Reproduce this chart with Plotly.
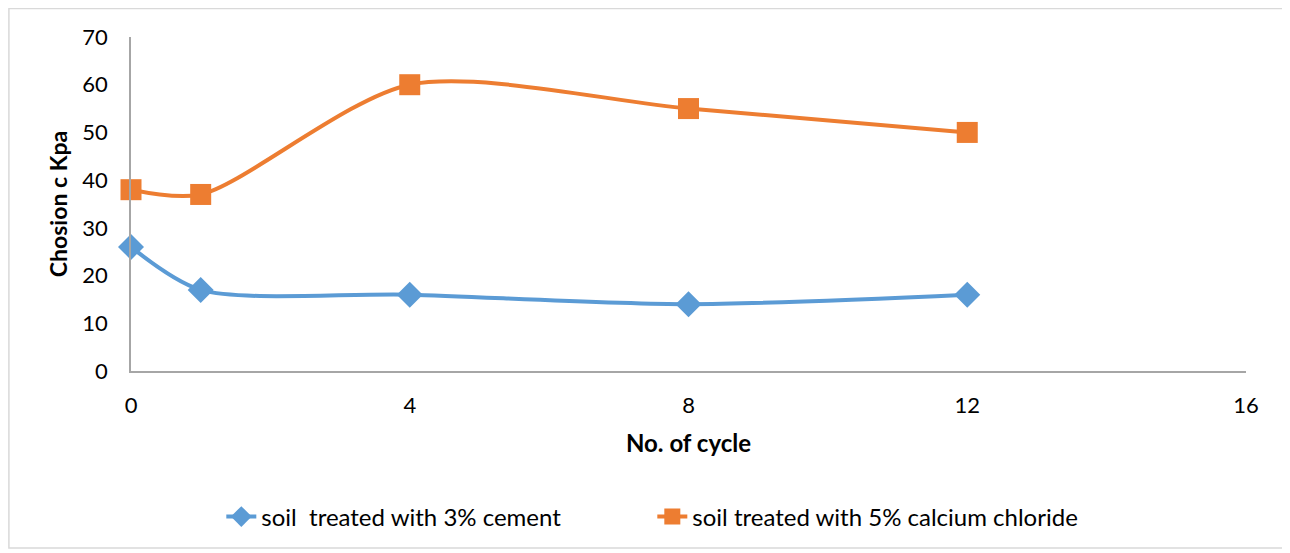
import plotly.graph_objects as go

# data
cycles = [0, 1, 4, 8, 12]
cement = [26, 17, 16, 14, 16]
calcium = [38, 37, 60, 55, 50]
x_ticks = [0, 4, 8, 12, 16]

font_name = "Lato, Open Sans, sans-serif"

fig = go.Figure()
fig.add_trace(go.Scatter(x=cycles, y=cement, name="soil  treated with 3% cement",
                         mode="lines+markers", line=dict(color="#5B9BD5", width=4, shape="spline", smoothing=0.8),
                         marker=dict(symbol="diamond", size=20, color="#5B9BD5")))
fig.add_trace(go.Scatter(x=cycles, y=calcium, name="soil treated with 5% calcium chloride",
                         mode="lines+markers", line=dict(color="#ED7D31", width=4, shape="spline", smoothing=0.8),
                         marker=dict(symbol="square", size=21, color="#ED7D31")))

# page has an 8px body margin, so margins are shifted by that much
fig.update_layout(
    width=1290, height=553,
    margin=dict(l=123, r=52, t=29, b=190),
    paper_bgcolor="white", plot_bgcolor="white",
    font=dict(family=font_name, size=22, color="#000"),
    xaxis=dict(range=[0, 16], tickvals=x_ticks, showgrid=False, zeroline=False,
               showline=True, linecolor="#A6A6A6", linewidth=1.5, ticks="",
               ticklabelstandoff=14,
               title=dict(text="<b>No. of cycle</b>", font=dict(size=24), standoff=18)),
    yaxis=dict(range=[0, 70], dtick=10, showgrid=False, zeroline=False,
               showline=True, linecolor="#A6A6A6", linewidth=1.5, ticks="",
               ticklabelstandoff=17,
               title=dict(text="<b>Chosion c Kpa</b>", font=dict(size=23), standoff=8)),
    legend=dict(orientation="h", x=0.081, xanchor="left", y=-0.437, yanchor="middle",
                font=dict(size=24), traceorder="normal", entrywidth=386),
    shapes=[dict(type="rect", xref="paper", yref="paper", x0=-0.1095, x1=1.0368, y0=-0.53, y1=1.085,
                 line=dict(color="#D9D9D9", width=1.5), layer="below")],
)
fig.update_traces(cliponaxis=False)

fig.write_html("out.html")
